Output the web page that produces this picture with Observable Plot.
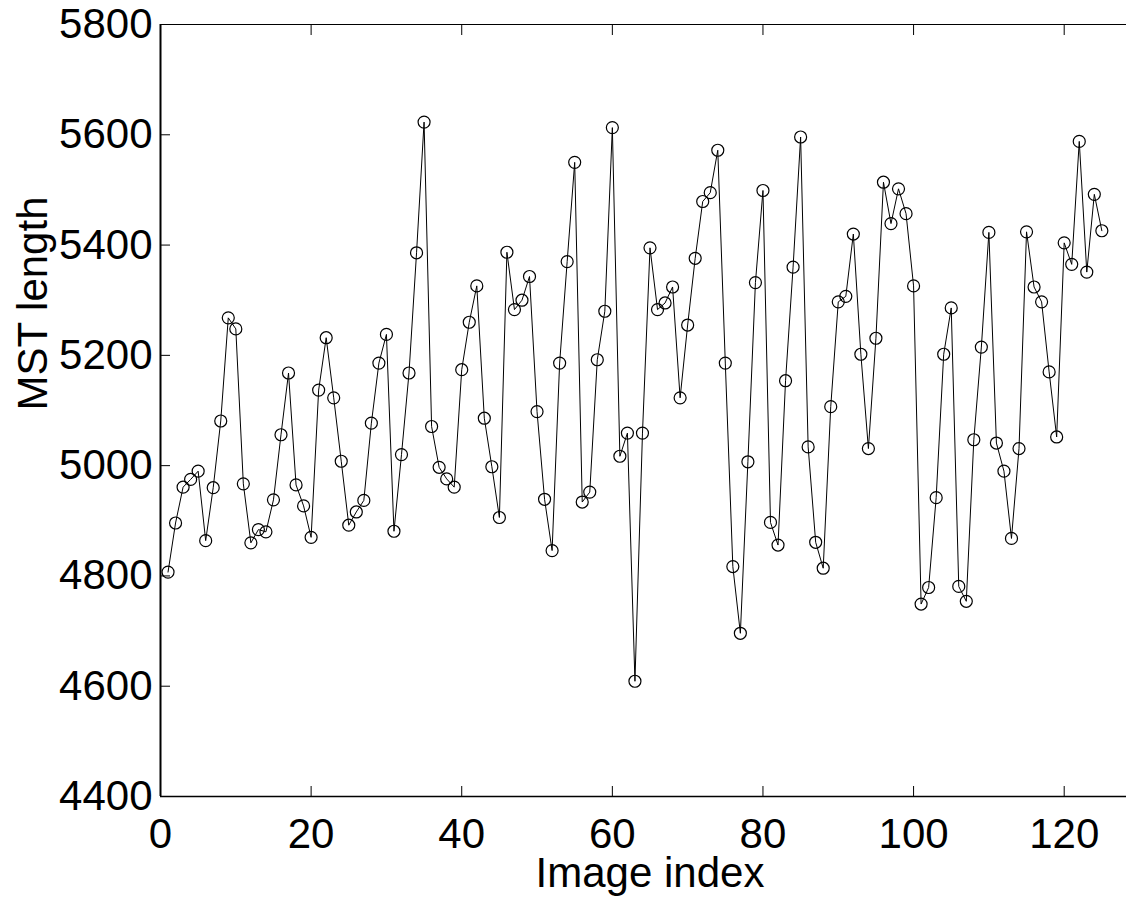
<!DOCTYPE html>
<html>
<head>
<meta charset="utf-8">
<script src="https://cdn.jsdelivr.net/npm/d3@7"></script>
<script src="https://cdn.jsdelivr.net/npm/@observablehq/plot@0.6"></script>
<style>
  html, body { margin: 0; padding: 0; background: #fff; overflow: hidden; width: 1126px; height: 897px; }
  #chart { position: absolute; left: 0; top: 0; }
  #chart svg { max-width: none !important; }
</style>
</head>
<body>
<div id="chart"></div>
<script>
// MST length for each image (index 1..125)
const mstLength = [
  4807, 4896, 4961, 4975, 4990, 4864, 4960, 5081, 5268, 5248,
  4967, 4860, 4884, 4880, 4938, 5056, 5168, 4965, 4927, 4870,
  5137, 5232, 5123, 5008, 4892, 4916, 4937, 5077, 5186, 5238,
  4881, 5020, 5168, 5386, 5623, 5071, 4997, 4976, 4961, 5174,
  5260, 5326, 5086, 4998, 4906, 5387, 5283, 5300, 5343, 5098,
  4939, 4846, 5186, 5370, 5550, 4934, 4952, 5192, 5280, 5613,
  5017, 5059, 4609, 5059, 5395, 5283, 5295, 5324, 5123, 5255,
  5376, 5479, 5495, 5572, 5186, 4817, 4696, 5007, 5332, 5499,
  4897, 4856, 5154, 5360, 5596, 5034, 4861, 4814, 5107, 5297,
  5307, 5420, 5202, 5031, 5231, 5514, 5439, 5502, 5457, 5326,
  4749, 4779, 4942, 5202, 5286, 4781, 4754, 5047, 5215, 5423,
  5041, 4990, 4868, 5031, 5424, 5324, 5297, 5170, 5052, 5404,
  5365, 5588, 5351, 5492, 5426
];
const xTicks = [0, 20, 40, 60, 80, 100, 120];
const yTicks = [4400, 4600, 4800, 5000, 5200, 5400, 5600, 5800];
const xDomain = [0, 130];
const yDomain = [4400, 5800];
const xLabel = "Image index";
const yLabel = "MST length";

const data = mstLength.map((v, i) => ({ index: i + 1, value: v }));
const font = "'Liberation Sans', Arial, Helvetica, sans-serif";
const fmt = d => String(d);

const chart = Plot.plot({
  width: 1150,
  height: 897,
  marginLeft: 160,
  marginRight: 11,
  marginTop: 24,
  marginBottom: 101,
  style: { fontFamily: font, fontSize: "42px", background: "white", color: "black", overflow: "visible", maxWidth: "none" },
  x: { domain: xDomain },
  y: { domain: yDomain },
  marks: [
    Plot.axisX({ anchor: "bottom", ticks: xTicks, tickFormat: fmt, tickSize: -10, tickPadding: 32, label: null, strokeWidth: 1 }),
    Plot.axisX({ anchor: "top", ticks: xTicks, tickSize: -10, fill: "none", label: null, strokeWidth: 1 }),
    Plot.axisY({ anchor: "left", ticks: yTicks, tickFormat: fmt, tickSize: -10, tickPadding: 18, label: null, strokeWidth: 1 }),
    Plot.axisY({ anchor: "right", ticks: yTicks, tickSize: -10, fill: "none", label: null, strokeWidth: 1 }),
    Plot.ruleY([yDomain[0]], { stroke: "black", strokeWidth: 1.5 }),
    Plot.ruleY([yDomain[1]], { stroke: "black", strokeWidth: 1.2 }),
    Plot.ruleX([xDomain[0]], { stroke: "black", strokeWidth: 2 }),
    Plot.ruleX([xDomain[1]], { stroke: "black", strokeWidth: 1.2 }),
    Plot.line(data, { x: "index", y: "value", stroke: "black", strokeWidth: 1 }),
    Plot.dot(data, { x: "index", y: "value", r: 6, stroke: "black", fill: "none", strokeWidth: 1.2 }),
    Plot.text([xLabel], { text: d => d, frameAnchor: "bottom", dy: 90, lineAnchor: "bottom", fontSize: 42, fill: "black" }),
    Plot.text([yLabel], { text: d => d, frameAnchor: "left", dx: -127, rotate: -90, fontSize: 42, fill: "black" })
  ]
});
document.getElementById("chart").append(chart);
</script>
</body>
</html>
